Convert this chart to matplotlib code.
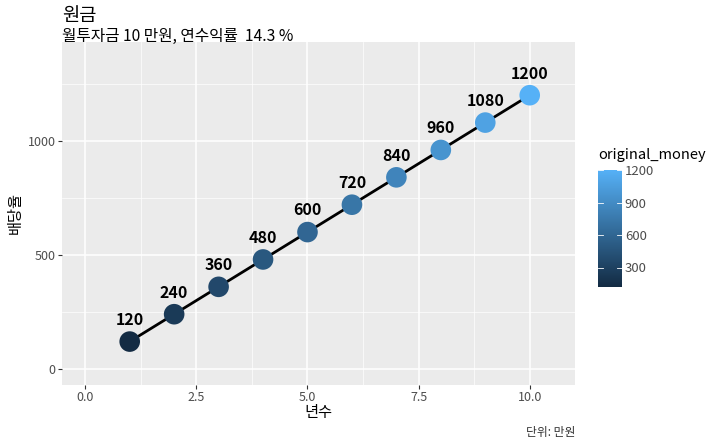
import matplotlib
matplotlib.use("Agg")
import matplotlib.pyplot as plt
import numpy as np
from matplotlib.colors import LinearSegmentedColormap, Normalize

plt.rcParams["font.family"] = ["Noto Sans CJK KR", "DejaVu Sans"]

years = [1, 2, 3, 4, 5, 6, 7, 8, 9, 10]
original_money = [120, 240, 360, 480, 600, 720, 840, 960, 1080, 1200]

cmap = LinearSegmentedColormap.from_list("gg", ["#132B43", "#56B1F7"])
norm = Normalize(vmin=min(original_money), vmax=max(original_money))

fig = plt.figure(figsize=(7.2, 4.45), dpi=100)
ax = fig.add_axes([0.086, 0.135, 0.713, 0.771])
ax.set_facecolor("#EBEBEB")
for s in ax.spines.values():
    s.set_visible(False)

ax.set_xlim(-0.525, 11.025)
ax.set_ylim(-70, 1434)
ax.set_xticks([0, 2.5, 5, 7.5, 10])
ax.set_xticklabels(["0.0", "2.5", "5.0", "7.5", "10.0"])
ax.set_yticks([0, 500, 1000])
ax.set_xticks([1.25, 3.75, 6.25, 8.75], minor=True)
ax.set_yticks([250, 750, 1250], minor=True)
ax.grid(which="major", color="white", linewidth=1.1)
ax.grid(which="minor", color="white", linewidth=0.5)
ax.set_axisbelow(True)
ax.tick_params(which="major", colors="#333333", labelcolor="#4D4D4D", labelsize=9, length=3, pad=1.5)
ax.tick_params(which="minor", length=0)

ax.plot(years, original_money, color="black", linewidth=2, zorder=2)
ax.scatter(years, original_money, c=original_money, cmap=cmap, norm=norm, s=220, zorder=3, edgecolors="none")
for x, y in zip(years, original_money):
    ax.text(x, y + 95, str(y), ha="center", va="center", fontsize=11.5, fontweight="bold", zorder=4)

ax.set_xlabel("년수", fontsize=11, labelpad=0)
ax.set_ylabel("배당율", fontsize=11, labelpad=3)

fig.text(0.086, 0.966, "원금", fontsize=13.5, ha="left", va="center")
fig.text(0.086, 0.917, "월투자금 10 만원, 연수익률  14.3 %", fontsize=11.3, ha="left", va="center")
fig.text(0.799, 0.029, "단위: 만원", fontsize=8.5, ha="right", va="center", color="#333333")

cax = fig.add_axes([598 / 720, 1 - 287 / 445, 24 / 720, 117 / 445])
grad = np.linspace(0, 1, 256).reshape(-1, 1)
cax.imshow(grad, cmap=cmap, aspect="auto", origin="lower",
           extent=[0, 1, min(original_money), max(original_money)])
cax.set_xticks([])
cax.yaxis.tick_right()
cax.set_yticks([300, 600, 900, 1200])
cax.tick_params(axis="y", length=0, labelsize=9.5, labelcolor="#4D4D4D", pad=2)
for t in [300, 600, 900, 1200]:
    cax.plot([0, 0.2], [t, t], color="white", linewidth=0.6)
    cax.plot([0.8, 1], [t, t], color="white", linewidth=0.6)
cax.set_xlim(0, 1)
cax.set_ylim(min(original_money), max(original_money))
for s in cax.spines.values():
    s.set_visible(False)
fig.text(598 / 720, 1 - 155 / 445, "original_money", fontsize=10.5, ha="left", va="center")

fig.savefig("out.png", dpi=100)
